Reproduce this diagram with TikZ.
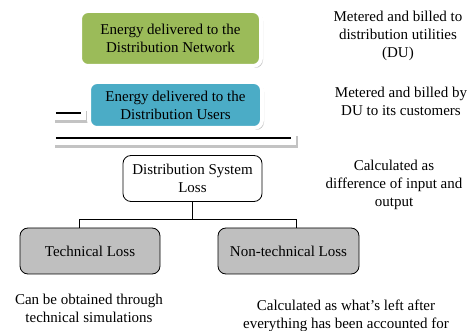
\documentclass[tikz,border=0pt]{standalone}
\usepackage{fontspec}
\setmainfont{Liberation Serif}
\usepackage{tikz}
\usetikzlibrary{positioning, shadows, calc}
\definecolor{netgreen}{RGB}{155, 187, 89}
\definecolor{useraqua}{RGB}{75, 172, 198}
\definecolor{lossgray}{RGB}{191, 191, 191}
\definecolor{shadowgray}{RGB}{195, 195, 195}

\begin{document}
\begin{tikzpicture}[
    x=1pt, y=-1pt,
    energy/.style={draw=white, line width=4pt, rounded corners=8pt, inner sep=0pt, align=center, font=\fontsize{15}{18}\selectfont,
        general shadow={fill=shadowgray, shadow xshift=2pt, shadow yshift=-2pt}},
    bar/.style={fill=white, draw=white, inner sep=0pt, general shadow={fill=shadowgray, shadow xshift=3pt, shadow yshift=-4pt}},
    rule/.style={line width=2.5pt, black},
    loss/.style={draw, line width=0.8pt, rounded corners=8pt, inner sep=0pt, minimum height=46pt, align=center, font=\fontsize{15}{18}\selectfont},
    note/.style={align=center, font=\fontsize{15}{18}\selectfont},
    link/.style={line width=0.8pt}
]
    \useasboundingbox (0,0) rectangle (472,331);

    % Energy boxes and bars
    \node[energy, fill=netgreen, minimum width=181pt, minimum height=55pt] (network) at (170.5,38.5) {Energy delivered to the\\Distribution Network};
    \node[bar, minimum width=33pt, minimum height=12pt] (dash) at (68.5,113) {};
    \draw[rule] ([xshift=4pt]dash.west) -- ([xshift=-4pt]dash.east);
    \node[energy, fill=useraqua, minimum width=173pt, minimum height=46pt] (users) at (175.5,105) {Energy delivered to the\\Distribution Users};
    \node[bar, minimum width=243pt, minimum height=12pt] (total) at (173.5,138) {};
    \draw[rule] ([xshift=4pt]total.west) -- ([xshift=-4pt]total.east);

    % Loss tree
    \node[loss, minimum width=139pt] (system) at (192.5,178.5) {Distribution System\\Loss};
    \node[loss, fill=lossgray, minimum width=140pt] (technical) at (90,251) {Technical Loss};
    \node[loss, fill=lossgray, minimum width=141pt] (nontechnical) at (288.5,251) {Non-technical Loss};
    \draw[link] (system.south) -- ($(system.south)+(0,18)$) coordinate (split);
    \draw[link] ([xshift=-11pt]technical.north) |- (split) -| ([xshift=7.5pt]nontechnical.north);

    % Notes
    \node[note] (billdu) at (398,36) {Metered and billed to\\distribution utilities\\(DU)};
    \node[note] (billcust) at (401,101.5) {Metered and billed by\\DU to its customers};
    \node[note] (calcdiff) at (394,185) {Calculated as\\difference of input and\\output};
    \node[note] (simnote) at (89,308) {Can be obtained through\\technical simulations};
    \node[note] (leftnote) at (346,315.5) {Calculated as what’s left after\\everything has been accounted for};
\end{tikzpicture}
\end{document}
